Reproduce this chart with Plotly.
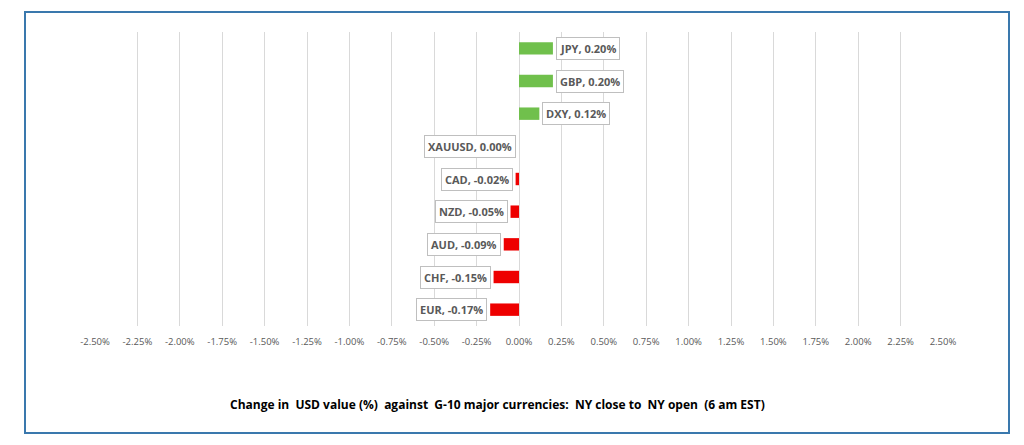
import plotly.graph_objects as go

currencies = ["JPY", "GBP", "DXY", "XAUUSD", "CAD", "NZD", "AUD", "CHF", "EUR"]
changes = [0.20, 0.20, 0.12, 0.00, -0.02, -0.05, -0.09, -0.15, -0.17]
tick_vals = [-2.5, -2.25, -2.0, -1.75, -1.5, -1.25, -1.0, -0.75, -0.5, -0.25,
             0.0, 0.25, 0.5, 0.75, 1.0, 1.25, 1.5, 1.75, 2.0, 2.25, 2.5]
tick_text = [f"{v:.2f}%" for v in tick_vals]
title_text = "Change in  USD value (%)  against  G-10 major currencies:  NY close to  NY open  (6 am EST)"

GREEN = "#70c04c"
RED = "#ee0000"
colors = [GREEN if v > 0 else RED for v in changes]

# figure is rendered with an 8px page offset; work in figure pixel coords
W, H = 1016, 437
L, R, T, B = 87, 81, 24, 119
PW, PH = W - L - R, H - T - B


def px_x(x):
    return (x - L) / PW


def px_y(y):
    return (H - B - y) / PH


fig = go.Figure()
fig.add_trace(go.Bar(
    x=changes, y=currencies, orientation="h",
    marker=dict(color=colors, line=dict(width=0)),
    hoverinfo="skip",
))

for c, v in zip(currencies, changes):
    pos = v > 0
    fig.add_annotation(
        x=v, y=c, xref="x", yref="y",
        text=f"<b>{c}, {v:.2f}%</b>",
        showarrow=False,
        xanchor="left" if pos else "right",
        xshift=3 if pos else -3,
        font=dict(family="Open Sans, Liberation Sans, sans-serif", size=11, color="#595959"),
        bgcolor="white", bordercolor="#bfbfbf", borderwidth=1, borderpad=3,
    )

fig.add_annotation(
    x=px_x(489), y=px_y(396), xref="paper", yref="paper",
    xanchor="center", yanchor="middle",
    text=f"<b>{title_text}</b>", showarrow=False,
    font=dict(family="Open Sans, Liberation Sans, sans-serif", size=12, color="#000000"),
)

fig.add_shape(type="rect", xref="paper", yref="paper",
              x0=px_x(17), x1=px_x(1001),
              y0=px_y(425), y1=px_y(4),
              line=dict(color="#3a78ad", width=2), fillcolor="rgba(0,0,0,0)", layer="below")

fig.update_layout(
    width=W, height=H,
    margin=dict(l=L, r=R, t=T, b=B),
    paper_bgcolor="white", plot_bgcolor="white",
    showlegend=False,
    bargap=0.62,
    xaxis=dict(range=[-2.5, 2.5], tickvals=tick_vals, ticktext=tick_text,
               showgrid=True, gridcolor="#d9d9d9", gridwidth=1,
               zeroline=True, zerolinecolor="#d9d9d9", zerolinewidth=1,
               showline=False, ticks="", ticklabelstandoff=8,
               tickfont=dict(family="Open Sans, Liberation Sans, sans-serif", size=9.5, color="#595959"),
               fixedrange=True),
    yaxis=dict(autorange="reversed", showticklabels=False, showgrid=False,
               zeroline=False, showline=False, ticks=""),
)

fig.write_html("out.html")
